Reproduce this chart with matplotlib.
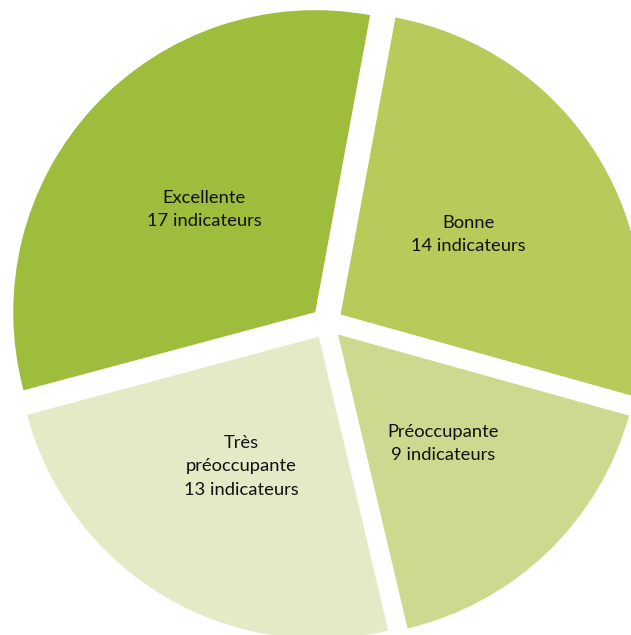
import matplotlib.pyplot as plt

# indicator counts per status
categories = ["Excellente", "Bonne", "Préoccupante", "Très\npréoccupante"]
counts = [17, 14, 9, 13]
colors = ["#9fbd3d", "#b8ca5a", "#cdd98e", "#e4eac6"]

labels = [f"{c}\n{n} indicateurs" for c, n in zip(categories, counts)]

W, H = 631, 635
fig = plt.figure(figsize=(W / 100, H / 100), dpi=100)
ax = fig.add_axes([0, 0, 1, 1])

ax.pie(
    counts,
    labels=labels,
    colors=colors,
    center=(327, H - 323),
    radius=302,
    explode=[16] * len(counts),
    startangle=195,
    counterclock=False,
    labeldistance=0.5,
    textprops=dict(ha="center", va="center", fontsize=13.2,
                   family="Lato", color="#111111", linespacing=1.55),
    wedgeprops=dict(linewidth=0),
    frame=True,
)
ax.set_xlim(0, W)
ax.set_ylim(0, H)
ax.set_aspect("equal")
ax.axis("off")

fig.savefig("out.png", dpi=100)
